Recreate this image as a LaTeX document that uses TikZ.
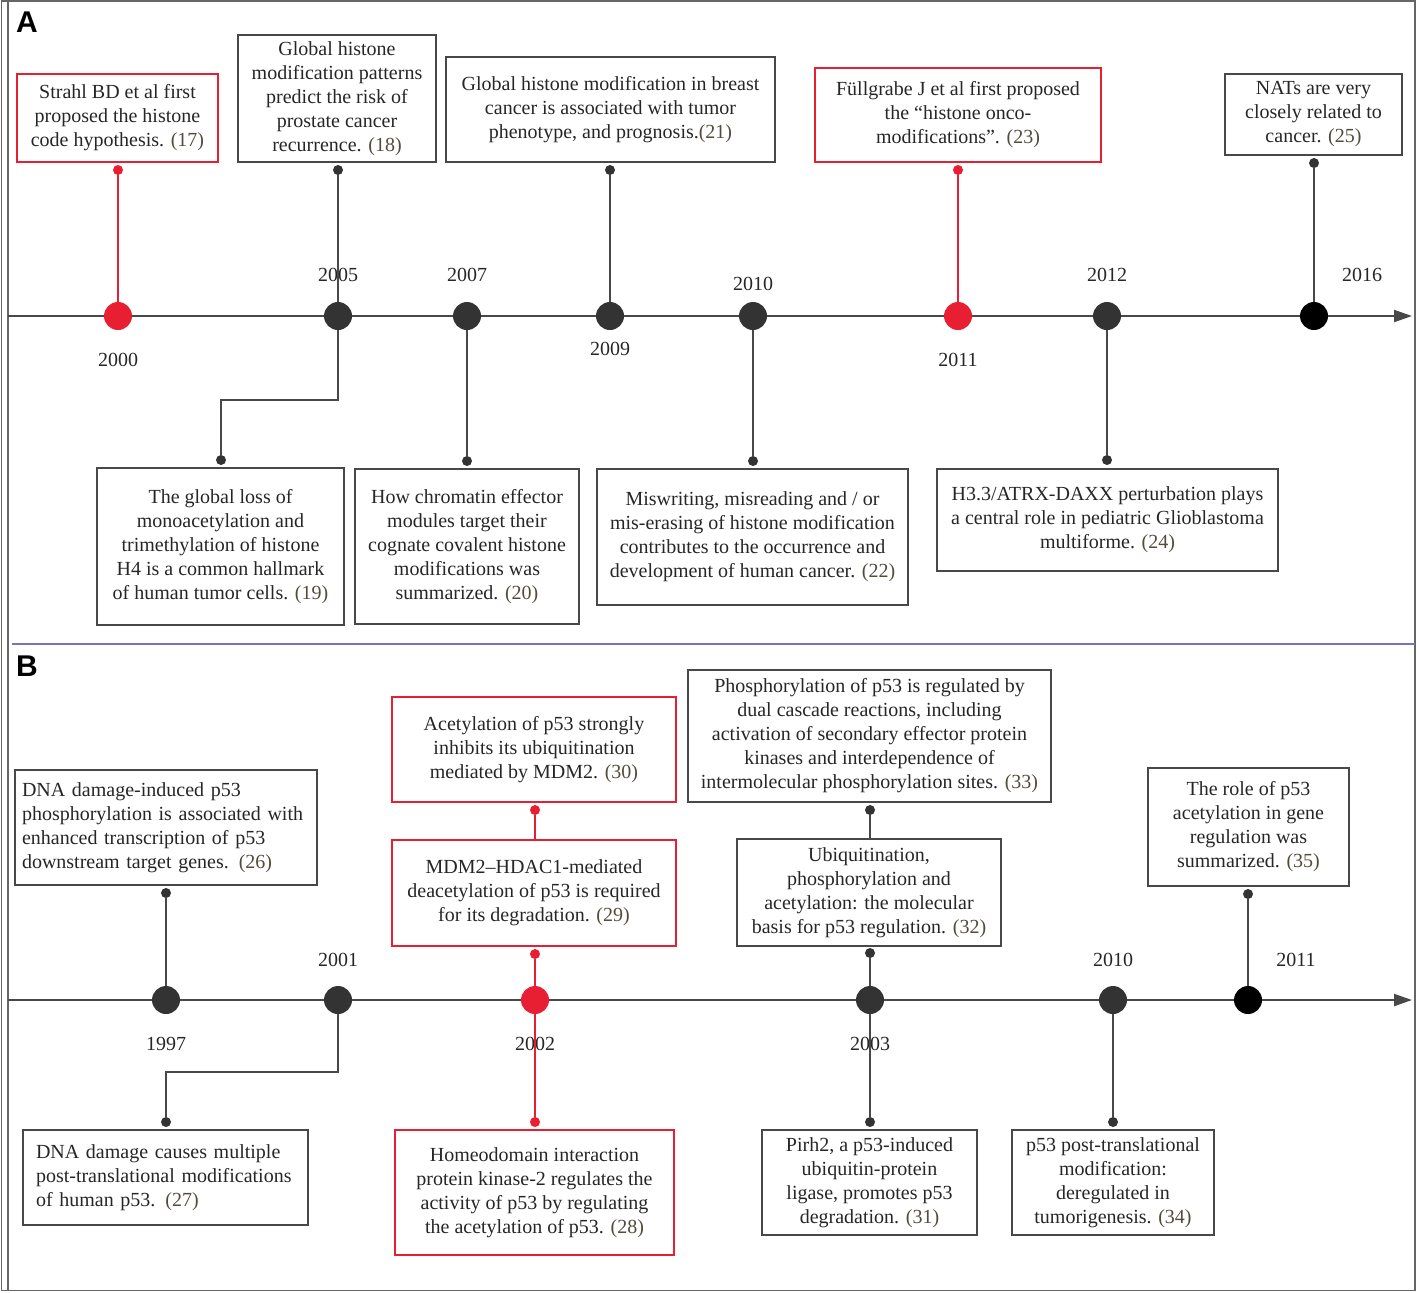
\documentclass[tikz,border=0pt]{standalone}
\usepackage{fontspec}
\setmainfont{Liberation Serif}
\setsansfont{Liberation Sans}
\usepackage{xcolor}
\usetikzlibrary{arrows.meta}
\definecolor{tred}{RGB}{232,30,50}
\definecolor{tdark}{RGB}{51,51,51}
\definecolor{tline}{RGB}{72,72,72}
\definecolor{refc}{RGB}{82,76,60}
\definecolor{sepblue}{RGB}{115,115,205}
\newcommand{\rf}[1]{\textcolor{refc}{(#1)}}

\begin{document}
\begin{tikzpicture}[x=0.5pt, y=-0.5pt,
    evbox/.style={draw=tline, line width=0.8pt, align=center, inner sep=2pt, text=black!85, font=\fontsize{10}{12}\selectfont},
    redbox/.style={evbox, draw=tred},
    yr/.style={circle, fill=tdark, inner sep=0, minimum size=14pt},
    dot/.style={circle, fill=tdark, inner sep=0, minimum size=5pt},
    reddot/.style={dot, fill=tred},
    yrlabel/.style={text=black!85, font=\fontsize{10}{12}\selectfont},
    conn/.style={tline, line width=0.8pt},
    panel/.style={font=\sffamily\bfseries\fontsize{15}{15}\selectfont}]
    \useasboundingbox (0,0) rectangle (1417,1292);
    % frame
    \draw[gray!80!black, line width=0.8pt] (1.5,1) rectangle (1415,1290.5);
    \draw[gray!80!black, line width=0.8pt] (8,1) -- (8,1290.5);
    \draw[sepblue, line width=0.6pt] (12,644) -- (1415,644);
    \node[panel] (pA) at (27,22) {A};
    \node[panel] (pB) at (27,666) {B};

    % ---------- A ----------
    \coordinate (a0) at (8,316);
    \coordinate (a1) at (1412,316);
    \draw[conn, line width=1pt, -{Triangle[length=9pt, width=6pt]}] (a0) -- (a1);

    \node[yrlabel] (l2000) at (118,360) {2000};
    \node[yrlabel] (l2005) at (338,275) {2005};
    \node[yrlabel] (l2007) at (467,275) {2007};
    \node[yrlabel] (l2009) at (610,349) {2009};
    \node[yrlabel] (l2010) at (753,284) {2010};
    \node[yrlabel] (l2011) at (958,360) {2011};
    \node[yrlabel] (l2012) at (1107,275) {2012};
    \node[yrlabel] (l2016) at (1362,275) {2016};

    \node[redbox, minimum width=100.5pt, minimum height=44pt] (b17) at (117.5,118) {Strahl BD et al first\\proposed the histone\\code hypothesis. \rf{17}};
    \node[evbox, minimum width=99pt, minimum height=63.5pt] (b18) at (337,98.5) {Global histone\\modification patterns\\predict the risk of\\prostate cancer\\recurrence. \rf{18}};
    \node[evbox, minimum width=164.5pt, minimum height=52.5pt] (b21) at (610.5,109.5) {Global histone modification in breast\\cancer is associated with tumor\\phenotype, and prognosis.\rf{21}};
    \node[redbox, minimum width=143pt, minimum height=47pt] (b23) at (958,115) {Füllgrabe J et al first proposed\\the “histone onco-\\modifications”. \rf{23}};
    \node[evbox, minimum width=88.5pt, minimum height=40.5pt] (b25) at (1313.5,114.5) {NATs are very\\closely related to\\cancer. \rf{25}};

    \node[evbox, minimum width=123.5pt, minimum height=78.5pt] (b19) at (220.5,546.5) {The global loss of\\monoacetylation and\\trimethylation of histone\\H4 is a common hallmark\\of human tumor cells. \rf{19}};
    \node[evbox, minimum width=112pt, minimum height=77.5pt] (b20) at (467,546.5) {How chromatin effector\\modules target their\\cognate covalent histone\\modifications was\\summarized. \rf{20}};
    \node[evbox, minimum width=155.5pt, minimum height=68pt] (b22) at (752.5,537) {Miswriting, misreading and / or\\mis-erasing of histone modification\\contributes to the occurrence and\\development of human cancer. \rf{22}};
    \node[evbox, minimum width=170.5pt, minimum height=51pt] (b24) at (1107.5,520) {H3.3/ATRX-DAXX perturbation plays\\a central role in pediatric Glioblastoma\\multiforme. \rf{24}};

    \node[reddot] (d17) at (118,170) {};
    \node[dot] (d18) at (338,170) {};
    \node[dot] (d21) at (610,170) {};
    \node[reddot] (d23) at (958,170) {};
    \node[dot] (d25) at (1314,163) {};
    \node[dot] (d19) at (221,460) {};
    \node[dot] (d20) at (467,461) {};
    \node[dot] (d22) at (753,461) {};
    \node[dot] (d24) at (1107,460) {};

    \node[yr, fill=tred] (y2000) at (118,316) {};
    \node[yr] (y2005) at (338,316) {};
    \node[yr] (y2007) at (467,316) {};
    \node[yr] (y2009) at (610,316) {};
    \node[yr] (y2010) at (753,316) {};
    \node[yr, fill=tred] (y2011) at (958,316) {};
    \node[yr] (y2012) at (1107,316) {};
    \node[yr, fill=black] (y2016) at (1314,316) {};

    \coordinate (k19) at (338,400);
    \draw[conn, tred] (y2000) -- (d17);
    \draw[conn] (y2005) -- (d18);
    \draw[conn] (y2005) -- (k19) -| (d19);
    \draw[conn] (y2007) -- (d20);
    \draw[conn] (y2009) -- (d21);
    \draw[conn] (y2010) -- (d22);
    \draw[conn, tred] (y2011) -- (d23);
    \draw[conn] (y2012) -- (d24);
    \draw[conn] (y2016) -- (d25);

    % ---------- B ----------
    \coordinate (c0) at (8,1000);
    \coordinate (c1) at (1412,1000);
    \draw[conn, line width=1pt, -{Triangle[length=9pt, width=6pt]}] (c0) -- (c1);

    \node[yrlabel] (l1997) at (166,1044) {1997};
    \node[yrlabel] (l2001) at (338,960) {2001};
    \node[yrlabel] (l2002) at (535,1044) {2002};
    \node[yrlabel] (l2003) at (870,1044) {2003};
    \node[yrlabel] (m2010) at (1113,960) {2010};
    \node[yrlabel] (m2011) at (1296,960) {2011};

    \node[evbox, align=left, text width=144pt, inner xsep=3.5pt, minimum height=57.5pt] (b26) at (166,827.5) {DNA damage-induced p53\\phosphorylation is associated with\\enhanced transcription of p53\\downstream target genes. \rf{26}};
    \node[redbox, minimum width=142pt, minimum height=52.5pt] (b30) at (534,749.5) {Acetylation of p53 strongly\\inhibits its ubiquitination\\mediated by MDM2. \rf{30}};
    \node[redbox, minimum width=142pt, minimum height=53pt] (b29) at (534,893) {MDM2–HDAC1-mediated\\deacetylation of p53 is required\\for its degradation. \rf{29}};
    \node[evbox, minimum width=181.5pt, minimum height=66pt] (b33) at (869.5,736) {Phosphorylation of p53 is regulated by\\dual cascade reactions, including\\activation of secondary effector protein\\kinases and interdependence of\\intermolecular phosphorylation sites. \rf{33}};
    \node[evbox, minimum width=132pt, minimum height=53.5pt] (b32) at (869,892.5) {Ubiquitination,\\phosphorylation and\\acetylation: the molecular\\basis for p53 regulation. \rf{32}};
    \node[evbox, minimum width=100.5pt, minimum height=59pt] (b35) at (1248.5,827) {The role of p53\\acetylation in gene\\regulation was\\summarized. \rf{35}};

    \node[evbox, align=left, text width=129.5pt, inner xsep=6.5pt, minimum height=47.5pt] (b27) at (165.5,1177.5) {DNA damage causes multiple\\post-translational modifications\\of human p53. \rf{27}};
    \node[redbox, minimum width=139.5pt, minimum height=62.5pt] (b28) at (534.5,1192.5) {Homeodomain interaction\\protein kinase-2 regulates the\\activity of p53 by regulating\\the acetylation of p53. \rf{28}};
    \node[evbox, minimum width=107.5pt, minimum height=52.5pt] (b31) at (869.5,1182.5) {Pirh2, a p53-induced\\ubiquitin-protein\\ligase, promotes p53\\degradation. \rf{31}};
    \node[evbox, minimum width=101pt, minimum height=52.5pt] (b34) at (1113,1182.5) {p53 post-translational\\modification:\\deregulated in\\tumorigenesis. \rf{34}};

    \node[dot] (d26) at (166,893) {};
    \node[reddot] (d30) at (535,810) {};
    \node[reddot] (d29) at (535,954) {};
    \node[dot] (d33) at (870,810) {};
    \node[dot] (d32) at (870,953) {};
    \node[dot] (d35) at (1248,894) {};
    \node[dot] (d27) at (166,1122) {};
    \node[reddot] (d28) at (535,1122) {};
    \node[dot] (d31) at (870,1122) {};
    \node[dot] (d34) at (1113,1122) {};

    \node[yr] (y1997) at (166,1000) {};
    \node[yr] (y2001) at (338,1000) {};
    \node[yr, fill=tred] (y2002) at (535,1000) {};
    \node[yr] (y2003) at (870,1000) {};
    \node[yr] (z2010) at (1113,1000) {};
    \node[yr, fill=black] (z2011) at (1248,1000) {};

    \coordinate (k27) at (338,1072);
    \draw[conn] (y1997) -- (d26);
    \draw[conn] (y2001) -- (k27) -| (d27);
    \draw[conn, tred] (y2002) -- (d29);
    \draw[conn, tred] (y2002) -- (d28);
    \draw[conn, tred] (d30) -- (d30 |- b29.north);
    \draw[conn] (y2003) -- (d32);
    \draw[conn] (y2003) -- (d31);
    \draw[conn] (d33) -- (d33 |- b32.north);
    \draw[conn] (z2010) -- (d34);
    \draw[conn] (z2011) -- (d35);
\end{tikzpicture}
\end{document}
